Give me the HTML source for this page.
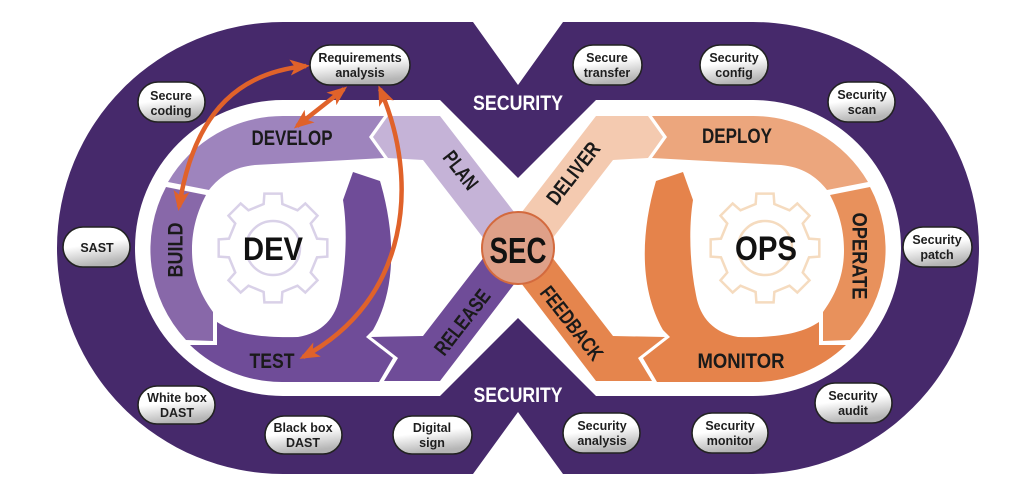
<!DOCTYPE html>
<html>
<head>
<meta charset="utf-8">
<style>
html,body{margin:0;padding:0;background:#ffffff;}
svg{display:block;}
text{font-family:"Liberation Sans",sans-serif;font-weight:bold;}
</style>
</head>
<body>
<svg width="1024" height="483" viewBox="0 0 1024 483" xmlns="http://www.w3.org/2000/svg">
<defs>
  <marker id="ah" viewBox="0 0 20 16" refX="16" refY="8" markerWidth="20" markerHeight="16" markerUnits="userSpaceOnUse" orient="auto-start-reverse">
    <path d="M0,0 L20,8 L0,16 L5,8 Z" fill="#e0622a"/>
  </marker>
  <linearGradient id="bg" x1="0" y1="0" x2="0.25" y2="1">
    <stop offset="0.5" stop-color="#ffffff"/>
    <stop offset="1" stop-color="#b5b5b5"/>
  </linearGradient>
  <path id="gear" d="M -9.36,-44.01 L -8.6,-54.32 L 8.6,-54.32 L 9.36,-44.01 L 24.51,-37.74 L 32.33,-44.5 L 44.5,-32.33 L 37.74,-24.51 L 44.01,-9.36 L 54.32,-8.6 L 54.32,8.6 L 44.01,9.36 L 37.74,24.51 L 44.5,32.33 L 32.33,44.5 L 24.51,37.74 L 9.36,44.01 L 8.6,54.32 L -8.6,54.32 L -9.36,44.01 L -24.51,37.74 L -32.33,44.5 L -44.5,32.33 L -37.74,24.51 L -44.01,9.36 L -54.32,8.6 L -54.32,-8.6 L -44.01,-9.36 L -37.74,-24.51 L -44.5,-32.33 L -32.33,-44.5 L -24.51,-37.74 Z"/>
</defs>

<!-- outer purple infinity -->
<path d="M283,22 L473,22 L518,85 L563,22 L753,22 A226,226 0 0 1 753,474 L563,474 L518,412 L473,474 L283,474 A226,226 0 0 1 283,22 Z" fill="#46296b"/>
<!-- inner white region -->
<path d="M283,100 L440,100 L518,178 L596,100 L753,100 A148,148 0 0 1 753,396 L596,396 L518,318 L440,396 L283,396 A148,148 0 0 1 283,100 Z" fill="#ffffff"/>

<!-- LEFT LOBE BANDS -->
<g id="left">
  <!-- TEST + crescent -->
  <path d="M353,172 L380,181 C396,235 396,290 373,330 L366,337 L393,358 L379,382 L283,382 A133,133 0 0 1 190,345 L217,345 L217,322 C235,334 260,338 298,337 C322,333 336,318 340,295 C347,260 347,225 343,200 Z" fill="#6f4c98"/>
  <!-- DEVELOP -->
  <path d="M384,116 L283,116 A133,133 0 0 0 168,182 L209,190 C220,176 234,167 255,165 L384,158 L369,137 Z" fill="#9e84bd"/>
  <!-- BUILD -->
  <path d="M166,187 A133,133 0 0 0 186,340 L213,341 L213,312 C197,290 192,270 192,250 C192,228 198,210 206,195 Z" fill="#8868a9"/>
  <!-- PLAN -->
  <path d="M373,137 L388,116 L440,116 L528,230 L518,248 L491,248 L423,160 L388,158 Z" fill="#c5b3d7"/>
  <!-- RELEASE -->
  <path d="M371,337 L423,336 L491,248 L518,248 L528,266 L440,381 L384,381 L398,358 Z" fill="#6f4c98"/>
</g>

<!-- RIGHT LOBE BANDS (mirrored) -->
<g transform="matrix(-1 0 0 1 1036 0)">
  <path d="M353,172 L380,181 C396,235 396,290 373,330 L366,337 L393,358 L379,382 L283,382 A133,133 0 0 1 190,345 L217,345 L217,322 C235,334 260,338 298,337 C322,333 336,318 340,295 C347,260 347,225 343,200 Z" fill="#e5834b"/>
  <path d="M384,116 L283,116 A133,133 0 0 0 168,182 L209,190 C220,176 234,167 255,165 L384,158 L369,137 Z" fill="#eca67d"/>
  <path d="M166,187 A133,133 0 0 0 186,340 L213,341 L213,312 C197,290 192,270 192,250 C192,228 198,210 206,195 Z" fill="#e8915c"/>
  <path d="M373,137 L388,116 L440,116 L528,230 L518,248 L491,248 L423,160 L388,158 Z" fill="#f4cab0"/>
  <path d="M371,337 L423,336 L491,248 L518,248 L528,266 L440,381 L384,381 L398,358 Z" fill="#e5854d"/>
</g>

<!-- gears -->
<use href="#gear" transform="translate(273,248)" fill="none" stroke="#d9d1e8" stroke-width="2.5"/>
<circle cx="273" cy="248" r="27" fill="none" stroke="#d9d1e8" stroke-width="2.5"/>
<use href="#gear" transform="translate(765,248)" fill="none" stroke="#f5dbbf" stroke-width="2.5"/>
<circle cx="765" cy="248" r="27" fill="none" stroke="#f5dbbf" stroke-width="2.5"/>

<!-- center labels -->
<text x="273" y="260" font-size="32" text-anchor="middle" textLength="60" lengthAdjust="spacingAndGlyphs" fill="#111">DEV</text>
<text x="766" y="260" font-size="34" text-anchor="middle" textLength="62" lengthAdjust="spacingAndGlyphs" fill="#111">OPS</text>

<!-- SEC circle -->
<circle cx="518" cy="248" r="36" fill="#dfa088" stroke="#d36a3e" stroke-width="2"/>
<text x="518" y="263" font-size="36" text-anchor="middle" textLength="57" lengthAdjust="spacingAndGlyphs" fill="#111">SEC</text>

<!-- SECURITY labels -->
<text x="518" y="110" font-size="21" text-anchor="middle" textLength="90" lengthAdjust="spacingAndGlyphs" fill="#ffffff">SECURITY</text>
<text x="518" y="402" font-size="21" text-anchor="middle" textLength="89" lengthAdjust="spacingAndGlyphs" fill="#ffffff">SECURITY</text>

<!-- band labels -->
<g fill="#1a1a1a" font-size="21">
  <text x="292" y="145" text-anchor="middle" textLength="81" lengthAdjust="spacingAndGlyphs">DEVELOP</text>
  <text x="737" y="143" text-anchor="middle" textLength="70" lengthAdjust="spacingAndGlyphs">DEPLOY</text>
  <text x="272" y="368" text-anchor="middle" textLength="45" lengthAdjust="spacingAndGlyphs">TEST</text>
  <text x="741" y="368" text-anchor="middle" textLength="87" lengthAdjust="spacingAndGlyphs">MONITOR</text>
  <text transform="translate(175,250) rotate(-90)" x="0" y="7.5" text-anchor="middle" textLength="55" lengthAdjust="spacingAndGlyphs">BUILD</text>
  <text transform="translate(860,256) rotate(90)" x="0" y="7.5" text-anchor="middle" textLength="87" lengthAdjust="spacingAndGlyphs">OPERATE</text>
  <text transform="translate(461,170) rotate(52)" x="0" y="7.5" text-anchor="middle" textLength="43" lengthAdjust="spacingAndGlyphs">PLAN</text>
  <text transform="translate(462,322) rotate(-52)" x="0" y="7.5" text-anchor="middle" textLength="77" lengthAdjust="spacingAndGlyphs">RELEASE</text>
  <text transform="translate(573,173) rotate(-52)" x="0" y="7.5" text-anchor="middle" textLength="73" lengthAdjust="spacingAndGlyphs">DELIVER</text>
  <text transform="translate(572,323) rotate(52)" x="0" y="7.5" text-anchor="middle" textLength="88" lengthAdjust="spacingAndGlyphs">FEEDBACK</text>
</g>

<!-- orange arrows -->
<g fill="none" stroke="#e0622a" stroke-width="4.5" marker-start="url(#ah)" marker-end="url(#ah)">
  <path d="M306,66 C245,72 195,105 179,207"/>
  <path d="M344,89 L297,126"/>
  <path d="M380,89 C420,180 410,300 303,357"/>
</g>

<!-- bubbles -->
<g stroke="#222" stroke-width="1.6" fill="url(#bg)">
  <rect x="310" y="45" width="100" height="40" rx="20"/>
  <rect x="138" y="82" width="67" height="40" rx="20"/>
  <rect x="63" y="227" width="67" height="40" rx="20"/>
  <rect x="138" y="386" width="77" height="38" rx="19"/>
  <rect x="265" y="416" width="77" height="38" rx="19"/>
  <rect x="393" y="416" width="79" height="38" rx="19"/>
  <rect x="573" y="45" width="69" height="40" rx="20"/>
  <rect x="700" y="45" width="68" height="40" rx="20"/>
  <rect x="828" y="82" width="67" height="40" rx="20"/>
  <rect x="903" y="227" width="69" height="40" rx="20"/>
  <rect x="815" y="383" width="77" height="40" rx="20"/>
  <rect x="692" y="413" width="76" height="40" rx="20"/>
  <rect x="563" y="413" width="77" height="40" rx="20"/>
</g>
<g fill="#1e1e1e" font-size="12.5" text-anchor="middle">
  <text x="360" y="62">Requirements</text><text x="360" y="77">analysis</text>
  <text x="171" y="100">Secure</text><text x="171" y="115">coding</text>
  <text x="97" y="252">SAST</text>
  <text x="177" y="402">White box</text><text x="177" y="417">DAST</text>
  <text x="303" y="432">Black box</text><text x="303" y="447">DAST</text>
  <text x="432" y="432">Digital</text><text x="432" y="447">sign</text>
  <text x="607" y="62">Secure</text><text x="607" y="77">transfer</text>
  <text x="734" y="62">Security</text><text x="734" y="77">config</text>
  <text x="862" y="99">Security</text><text x="862" y="114">scan</text>
  <text x="937" y="244">Security</text><text x="937" y="259">patch</text>
  <text x="853" y="400">Security</text><text x="853" y="415">audit</text>
  <text x="730" y="430">Security</text><text x="730" y="445">monitor</text>
  <text x="602" y="430">Security</text><text x="602" y="445">analysis</text>
</g>
</svg>
</body>
</html>
